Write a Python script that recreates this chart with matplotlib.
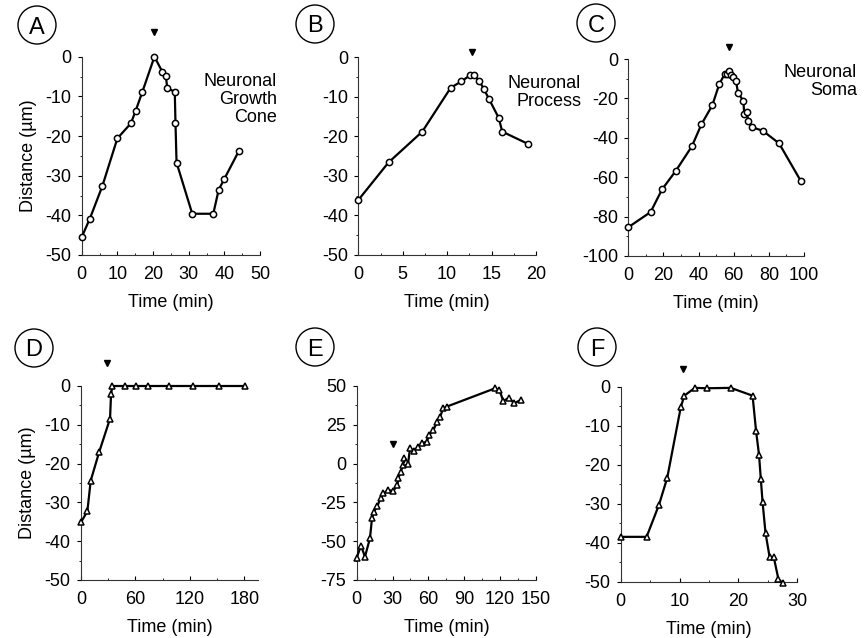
import matplotlib
matplotlib.use("Agg")
import matplotlib.pyplot as plt
from matplotlib.patches import Ellipse
from matplotlib.ticker import AutoMinorLocator

plt.rcParams['font.family'] = ['Liberation Sans', 'DejaVu Sans']
plt.rcParams['axes.unicode_minus'] = False

# ---- data ----
a_t = [0, 2.3, 5.8, 10, 13.8, 15.1, 17, 20.4, 22.6, 23.6, 24, 26.1, 26.3, 26.6, 31, 36.9, 38.4, 40, 44]
a_d = [-45.5, -40.8, -32.6, -20.6, -16.8, -13.7, -8.9, 0, -3.8, -4.9, -8, -8.8, -16.8, -26.7, -39.6, -39.6, -33.6, -30.8, -23.9]

b_t = [0, 3.4, 7.2, 10.4, 11.6, 12.6, 13.0, 13.6, 14.1, 14.7, 15.8, 16.2, 19.1]
b_d = [-36.1, -26.6, -18.8, -7.7, -6.1, -4.5, -4.5, -5.9, -7.9, -10.5, -15.3, -18.8, -21.9]

c_t = [0, 12.7, 19.2, 27.1, 36.2, 41.6, 47.8, 51.8, 54.9, 56.4, 57.5, 58.4, 59.8, 61.3, 62.4, 65.5, 66, 67.4, 68.3, 70.6, 76.5, 85.8, 98.1]
c_d = [-85.4, -77.7, -66.2, -56.7, -44.3, -33.2, -23.5, -12.7, -7.6, -7.4, -6.1, -8.1, -9.3, -11, -17.1, -21.3, -28.1, -26.9, -31.3, -34.7, -36.4, -42.8, -61.8]

d_t = [0, 7, 10.7, 19.9, 32, 33.1, 34.6, 48.9, 60.7, 73.9, 97.4, 123.2, 152.2, 180.9]
d_d = [-35.1, -32.3, -24.4, -17.1, -8.4, -2.1, 0, 0, 0, 0, 0, 0, 0, 0]

e_t = [0, 3.6, 6.9, 11.1, 12.8, 14.5, 17.3, 20, 22.3, 26.5, 30.6, 34, 34.8, 36.8, 39, 39.9, 41.3, 42.9, 44.6,
       47.9, 51.5, 54.4, 58.6, 60.7, 64.1, 67.4, 69.7, 72.5, 75.3, 115.7, 119.3, 122.7, 127.4, 131.6, 137.2]
e_d = [-60.6, -52.9, -60, -48.1, -35.2, -31, -27.3, -22.4, -19.2, -17, -17.7, -13.8, -9.5, -5.2, -0.9, 3.4, 0.8, -0.5, 9.9,
       8.1, 10.9, 13.1, 14.1, 18.4, 21.6, 27, 30.2, 35.6, 36.7, 48.5, 47.4, 40.3, 42.5, 38.8, 41]

f_t = [0, 4.4, 6.5, 7.9, 10.2, 10.8, 12.6, 14.6, 18.7, 22.4, 23, 23.5, 23.8, 24.1, 24.6, 25.3, 26, 26.8, 27.6]
f_d = [-38.5, -38.5, -30.3, -23.4, -5.3, -2.3, -0.3, -0.4, -0.3, -2.3, -11.4, -17.5, -23.6, -29.6, -37.5, -43.7, -43.7, -49.4, -50.4]

panel_letters = ['A', 'B', 'C', 'D', 'E', 'F']
panel_notes = ['Neuronal\nGrowth\nCone', 'Neuronal\nProcess', 'Neuronal\nSoma', None, None, None]
arrow_t = [20.3, 12.8, 57.3, 29, 30.6, 10.5]
arrow_y = [6.3, 1.4, 6.2, 5.8, 12.6, 4.5]
xlims = [(0, 50), (0, 20), (0, 100), (0, 195), (0, 150), (0, 30)]
ylims = [(-50, 0), (-50, 0), (-100, 0), (-50, 0), (-75, 50), (-50, 0)]
xticks = [[0, 10, 20, 30, 40, 50], [0, 5, 10, 15, 20], [0, 20, 40, 60, 80, 100],
          [0, 60, 120, 180], [0, 30, 60, 90, 120, 150], [0, 10, 20, 30]]
yticks = [[0, -10, -20, -30, -40, -50], [0, -10, -20, -30, -40, -50], [0, -20, -40, -60, -80, -100],
          [0, -10, -20, -30, -40, -50], [50, 25, 0, -25, -50, -75], [0, -10, -20, -30, -40, -50]]
series = [(a_t, a_d, 'o'), (b_t, b_d, 'o'), (c_t, c_d, 'o'), (d_t, d_d, '^'), (e_t, e_d, '^'), (f_t, f_d, '^')]

W, H = 867, 638
# axes boxes in pixels: left, right, top, bottom
boxes = [(81.7, 260, 56.7, 255), (358.3, 536, 57.3, 255), (628.3, 804, 59, 256),
         (81, 258, 386, 580), (356.7, 536, 386, 580), (620.7, 797.3, 386.7, 581.7)]
circles = [(37, 25), (315, 24), (596, 23), (34, 348), (315, 347), (597, 347)]
note_pos = [(277, 99.5), (581, 92.5), (857, 81.5)]

fig = plt.figure(figsize=(W / 100, H / 100), dpi=100)
fs = 13

for i in range(6):
    l, r, t, b = boxes[i]
    ax = fig.add_axes([l / W, 1 - b / H, (r - l) / W, (b - t) / H])
    x, y, m = series[i]
    ax.plot(x, y, '-', color='black', lw=1.6, marker=m, ms=4.5 if m == 'o' else 4.8,
            mfc='white', mec='black', mew=1.1, clip_on=False, zorder=3)
    ax.set_xlim(*xlims[i])
    ax.set_ylim(*ylims[i])
    ax.set_xticks(xticks[i])
    ax.set_yticks(yticks[i])
    ax.xaxis.set_minor_locator(AutoMinorLocator(2))
    ax.yaxis.set_minor_locator(AutoMinorLocator(2))
    for s in ['top', 'right']:
        ax.spines[s].set_visible(False)
    for s in ['left', 'bottom']:
        ax.spines[s].set_linewidth(0.8)
        ax.spines[s].set_color('#333333')
    ax.tick_params(axis='both', which='major', labelsize=fs, length=3, width=0.8)
    ax.tick_params(axis='x', which='both', direction='in', pad=8)
    ax.tick_params(axis='y', which='both', direction='out', pad=4.5)
    ax.tick_params(axis='both', which='minor', length=1.5, width=0.6)
    ax.set_xlabel('Time (min)', fontsize=fs, labelpad=8)
    if i in (0, 3):
        ax.set_ylabel('Distance (\u00b5m)', fontsize=fs, labelpad=6)
    ax.patch.set_alpha(0)
    # arrowhead marking
    ax.plot([arrow_t[i]], [arrow_y[i]], marker='v', color='black', ms=5, clip_on=False, zorder=4)
    # circled panel letter
    cx, cy = circles[i]
    fig.patches.append(Ellipse((cx / W, 1 - cy / H), 38 / W, 38 / H, transform=fig.transFigure,
                               fill=False, edgecolor='black', lw=1.0))
    fig.text(cx / W, 1 - cy / H, panel_letters[i], fontsize=17, ha='center', va='center_baseline')
    if panel_notes[i]:
        nx, ny = note_pos[i]
        fig.text(nx / W, 1 - ny / H, panel_notes[i], fontsize=fs, ha='right', va='center',
                 multialignment='right', linespacing=1.05)

fig.savefig('out.png', dpi=100)
